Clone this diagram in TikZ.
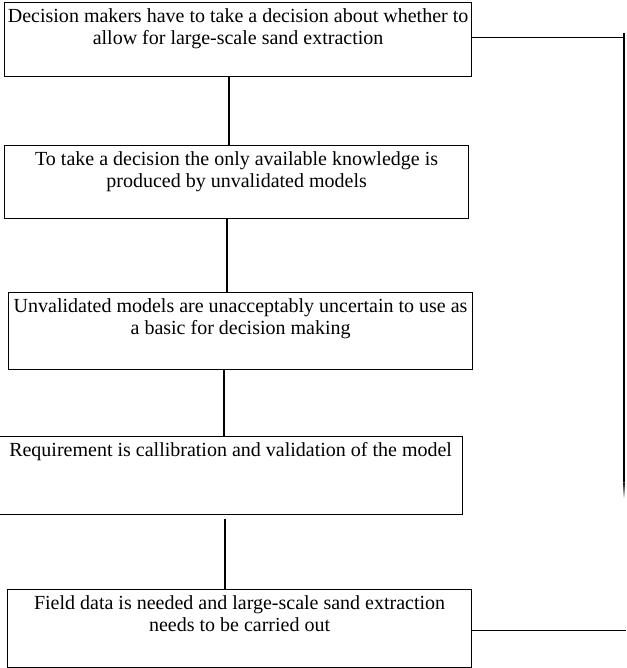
\documentclass[tikz,border=0pt]{standalone}
\usepackage{fontspec}
\setmainfont{Liberation Serif}
\newcommand\boxlines[3]{\parbox[c][#2pt][t]{#1pt}{\centering\fontsize{20}{22}\selectfont\rule{0pt}{20pt}#3\par}}
\newcommand\oneline[1]{\makebox[0pt]{#1}}
\begin{document}
\begin{tikzpicture}[x=1pt,y=-1pt,
  stepbox/.style={draw, line width=1.2pt, inner sep=0pt, anchor=north west},
  conn/.style={line width=1.2pt}]
\useasboundingbox (0,0) rectangle (626,668);
\node[stepbox] (b1) at (4,2) {\boxlines{467}{74}{\oneline{Decision makers have to take a decision about whether to}\\\oneline{allow for large-scale sand extraction}}};
\node[stepbox] (b2) at (4,145) {\boxlines{464}{73}{\oneline{To take a decision the only available knowledge is}\\\oneline{produced by unvalidated models}}};
\node[stepbox] (b3) at (8,292) {\boxlines{464}{77}{\oneline{Unvalidated models are unacceptably uncertain to use as}\\\oneline{a basic for decision making}}};
\node[stepbox] (b4) at (-2,436) {\boxlines{464}{78}{\oneline{Requirement is callibration and validation of the model}}};
\node[stepbox] (b5) at (7,589) {\boxlines{464}{78}{\oneline{Field data is needed and large-scale sand extraction}\\\oneline{needs to be carried out}}};
\coordinate (c1) at (229,0);
\coordinate (c2) at (227,0);
\coordinate (c3) at (224,0);
\coordinate (c4) at (225,0);
\draw[conn] (b1.south -| c1) -- (b2.north -| c1);
\draw[conn] (b2.south -| c2) -- (b3.north -| c2);
\draw[conn] (b3.south -| c3) -- (b4.north -| c3);
\draw[conn] ([yshift=-4pt]b4.south -| c4) -- (b5.north -| c4);
\coordinate (rt) at (624,33);
\coordinate (rb) at (624,482);
\coordinate (re) at (626,0);
\draw[conn] ([yshift=2pt]b1.east) -- ([yshift=2pt]b1.east -| rt);
\draw[conn] (rt) -- (rb);
\shade[top color=black, bottom color=white] (623.4,482) rectangle (624.6,498);
\draw[conn] ([yshift=-2pt]b5.east) -- ([yshift=-2pt]b5.east -| re);
\end{tikzpicture}
\end{document}
